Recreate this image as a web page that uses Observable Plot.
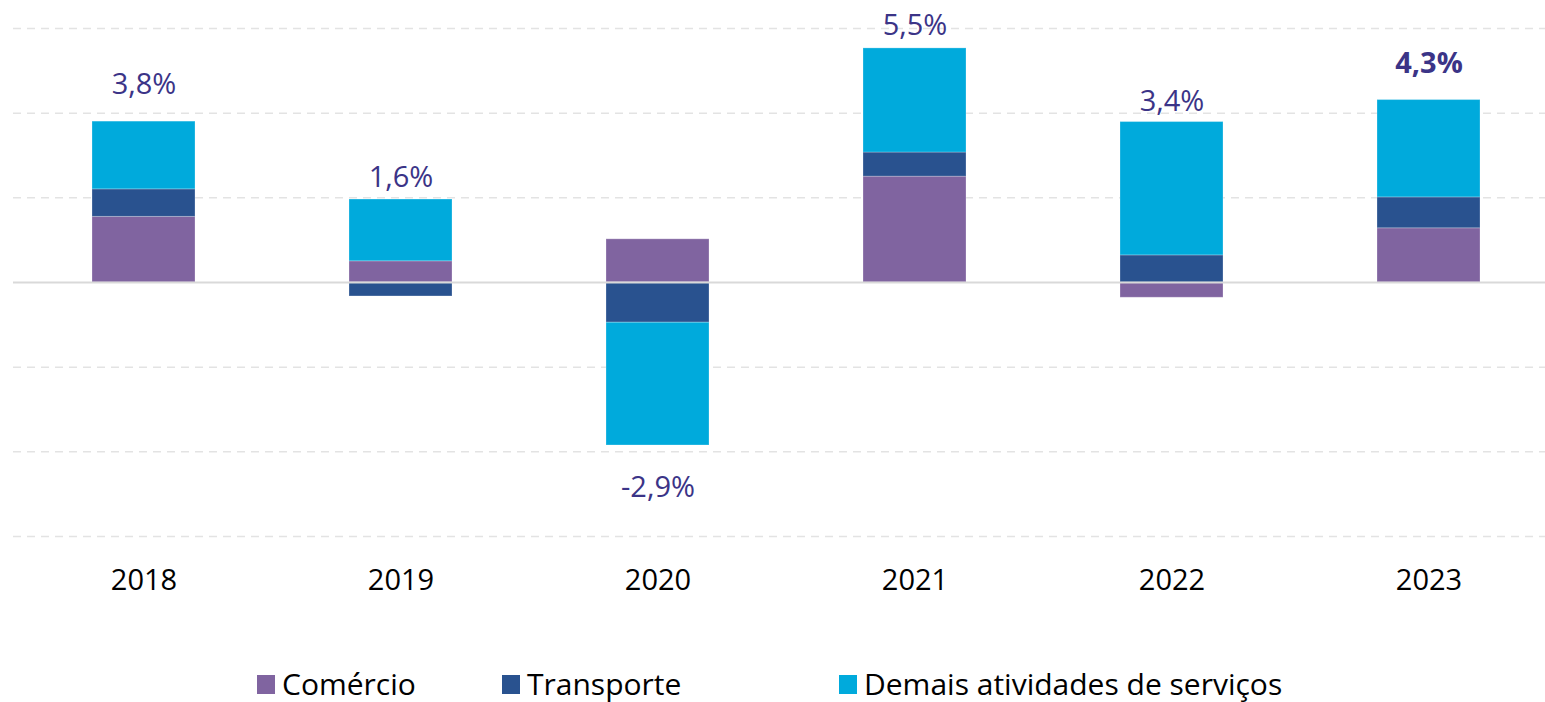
<!DOCTYPE html>
<html>
<head>
<meta charset="utf-8">
<script src="https://cdn.jsdelivr.net/npm/d3@7"></script>
<script src="https://cdn.jsdelivr.net/npm/@observablehq/plot@0.6"></script>
<style>
  html, body { margin: 0; padding: 0; background: #fff; }
  body { width: 1545px; height: 702px; overflow: hidden; font-family: "Open Sans", "Noto Sans", sans-serif; }
  #legend { position: relative; height: 72px; font-size: 30px; color: #000; }
  .item { position: absolute; top: 54px; display: flex; align-items: center; line-height: 1; }
  .sw { width: 18px; height: 19px; margin-right: 7px; }
</style>
</head>
<body>
<div id="chart"></div>
<div id="legend"></div>
<script>
const years = ["2018", "2019", "2020", "2021", "2022", "2023"];
const series = ["Comércio", "Transporte", "Demais atividades de serviços"];
const comercio = [1.55, 0.50, 1.02, 2.50, -0.36, 1.28];
const transporte = [0.65, -0.33, -0.95, 0.57, 0.64, 0.73];
const demais = [1.60, 1.46, -2.90, 2.46, 3.15, 2.30];
const totals = [3.8, 1.6, -2.9, 5.5, 3.4, 4.3];
const colors = ["#8064a0", "#29528f", "#00aadc"];
const gridTicks = [-6, -4, -2, 2, 4, 6];

const seriesValues = [comercio, transporte, demais];
const rows = [];
series.forEach((s, si) => years.forEach((y, i) => rows.push({year: y, series: s, value: seriesValues[si][i]})));

const fmt = v => v.toFixed(1).replace(".", ",") + "%";
const labels = years.map((y, i) => {
  const vals = seriesValues.map(a => a[i]);
  const negBottom = vals.filter(v => v < 0).reduce((a, b) => a + b, 0);
  const t = totals[i];
  return {
    year: y,
    text: fmt(t),
    y: t > 0 ? Math.min(t, 5.2) : negBottom,
    pos: t > 0,
    bold: i === years.length - 1
  };
});

const chart = Plot.plot({
  width: 1545,
  height: 630,
  marginLeft: 13,
  marginRight: 0,
  marginTop: 28,
  marginBottom: 94,
  style: {fontFamily: "'Open Sans', 'Noto Sans', sans-serif", color: "#000", background: "#fff"},
  x: {domain: years, range: [13, 1558], paddingInner: 0.6, paddingOuter: 0.3, label: null},
  y: {domain: [-6, 6], axis: null},
  color: {domain: series, range: colors},
  marks: [
    Plot.ruleY(gridTicks, {stroke: "#e3e3e3", strokeWidth: 1.5, strokeDasharray: "8,6"}),
    Plot.barY(rows, {x: "year", y: "value", fill: "series", order: series, stroke: "#ffffff", strokeOpacity: 0.25, strokeWidth: 1}),
    Plot.ruleY([0], {stroke: "#d9d9d9", strokeWidth: 2}),
    Plot.text(labels.filter(d => d.pos && !d.bold), {x: "year", y: "y", text: "text", dy: -37, fontSize: 29, fill: "#3b3487"}),
    Plot.text(labels.filter(d => d.pos && d.bold), {x: "year", y: "y", text: "text", dy: -37, fontSize: 29, fontWeight: "bold", fill: "#3b3487"}),
    Plot.text(labels.filter(d => !d.pos), {x: "year", y: "y", text: "text", dy: 42, fontSize: 29, fill: "#3b3487"}),
    Plot.axisX({tickSize: 0, tickPadding: 33, fontSize: 29, fill: "#000", label: null})
  ]
});
document.getElementById("chart").appendChild(chart);

const legend = document.getElementById("legend");
const lefts = [257, 502, 839];
series.forEach((s, i) => {
  const it = document.createElement("div");
  it.className = "item";
  it.style.left = lefts[i] + "px";
  it.style.transform = "translateY(-50%)";
  it.innerHTML = `<span class="sw" style="background:${colors[i]}"></span><span>${s}</span>`;
  legend.appendChild(it);
});
</script>
</body>
</html>
